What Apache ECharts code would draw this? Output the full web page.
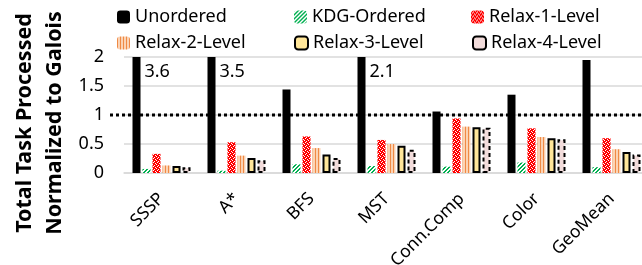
<html>
  <head>
    <meta charset="utf-8">
    <script src="https://cdn.jsdelivr.net/npm/echarts@6/dist/echarts.min.js"></script>
  </head>
  <body style="margin:0">
    <div id="main" style="width:642px;height:265px;"></div>
    <script>
      var categories = ['SSSP', 'A*', 'BFS', 'MST', 'Conn.Comp', 'Color', 'GeoMean'];
      var seriesNames = ['Unordered', 'KDG-Ordered', 'Relax-1-Level', 'Relax-2-Level', 'Relax-3-Level', 'Relax-4-Level'];
      var unordered = [3.6, 3.5, 1.44, 2.1, 1.06, 1.35, 1.95];
      var kdgOrdered = [0.07, 0.04, 0.15, 0.12, 0.11, 0.18, 0.10];
      var relax1 = [0.33, 0.53, 0.63, 0.57, 0.94, 0.77, 0.60];
      var relax2 = [0.13, 0.30, 0.43, 0.50, 0.80, 0.62, 0.41];
      var relax3 = [0.12, 0.26, 0.32, 0.47, 0.79, 0.60, 0.36];
      var relax4 = [0.10, 0.22, 0.26, 0.40, 0.78, 0.58, 0.32];
      var yTicks = [0, 0.5, 1, 1.5, 2];
      var baseline = 1;
      var yMax = 2;

      // little canvas tiles to imitate the office-style fill patterns
      function tile(w, h, draw) {
        var c = document.createElement('canvas');
        c.width = w; c.height = h;
        draw(c.getContext('2d'));
        return { image: c, repeat: 'repeat' };
      }
      var greenFill = tile(4, 4, function (g) {
        g.fillStyle = '#ffffff'; g.fillRect(0, 0, 4, 4);
        g.fillStyle = '#00b050';
        g.fillRect(3, 0, 1, 1); g.fillRect(2, 1, 1, 1); g.fillRect(1, 2, 1, 1); g.fillRect(0, 3, 1, 1);
        g.fillRect(0, 0, 1, 1); g.fillRect(3, 1, 1, 1); g.fillRect(2, 2, 1, 1); g.fillRect(1, 3, 1, 1);
      });
      var redFill = tile(4, 4, function (g) {
        g.fillStyle = '#ff0000'; g.fillRect(0, 0, 4, 4);
        g.fillStyle = '#ffffff';
        g.fillRect(0, 0, 1, 1); g.fillRect(2, 1, 1, 1); g.fillRect(1, 2, 1, 1); g.fillRect(3, 3, 1, 1);
      });
      var orangeFill = tile(3, 2, function (g) {
        g.fillStyle = '#fbd3b5'; g.fillRect(0, 0, 3, 2);
        g.fillStyle = '#ef8a45'; g.fillRect(0, 0, 1, 2);
      });

      var styles = [
        { color: '#000000' },
        { color: greenFill },
        { color: redFill },
        { color: orangeFill },
        { color: '#ffe699', borderColor: '#000000', borderWidth: 2 },
        { color: '#f2dcdb', borderColor: '#000000', borderWidth: 2, borderType: [4, 3] }
      ];
      var values = [unordered, kdgOrdered, relax1, relax2, relax3, relax4];

      var series = values.map(function (vals, i) {
        return {
          name: seriesNames[i],
          type: 'bar',
          barWidth: 8,
          barGap: '25%',
          itemStyle: styles[i],
          data: vals.map(function (v) {
            if (v <= yMax) return v;
            return {
              value: yMax,
              label: {
                show: true, formatter: String(v), position: [12, 6],
                align: 'left', verticalAlign: 'top',
                fontSize: 18, color: '#000', fontFamily: 'Noto Sans'
              }
            };
          })
        };
      });

      var yTitle = {
        type: 'text', x: 40, y: 123, rotation: Math.PI / 2,
        style: {
          text: 'Total Task Processed\nNormalized to Galois',
          font: 'bold 21.5px "Noto Sans"', fill: '#000',
          align: 'center', verticalAlign: 'middle', lineHeight: 30
        }
      };

      var myChart = echarts.init(document.getElementById('main'));
      var option = {
        animation: false,
        textStyle: { fontFamily: 'Noto Sans' },
        legend: {
          left: 117, top: 8, width: 540, padding: 0,
          itemWidth: 13, itemHeight: 13, itemGap: 8,
          textStyle: { fontSize: 18, color: '#000', width: 151, lineHeight: 17 },
          data: seriesNames
        },
        grid: { left: 124, width: 525, top: 57, bottom: 92, outerBoundsMode: 'none' },
        xAxis: {
          type: 'category',
          data: categories,
          axisTick: { show: false },
          axisLine: { lineStyle: { color: '#d9d9d9', width: 1.5 } },
          axisLabel: { interval: 0, rotate: 45, fontSize: 17.5, color: '#000', margin: 23 }
        },
        yAxis: {
          type: 'value',
          min: yTicks[0], max: yTicks[yTicks.length - 1], interval: 0.5,
          axisLabel: { fontSize: 18, color: '#000', margin: 20 },
          splitLine: { lineStyle: { color: '#d9d9d9', width: 1.5 } }
        },
        graphic: [yTitle],
        series: series
      };
      myChart.setOption(option);

      // dotted reference line at 1, reaching a bit left of the plot
      var yLine = myChart.convertToPixel({ yAxisIndex: 0 }, baseline);
      myChart.setOption({
        graphic: [yTitle, {
          type: 'line', z: 100,
          shape: { x1: 110, y1: yLine, x2: 642, y2: yLine },
          style: { stroke: '#000', lineWidth: 3, lineDash: [3, 3] }
        }]
      });
    </script>
  </body>
</html>
